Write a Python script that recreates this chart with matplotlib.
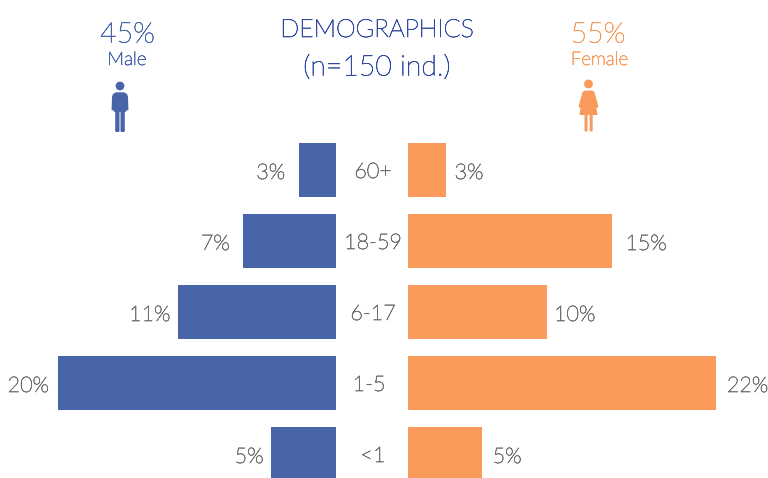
import matplotlib
matplotlib.use("Agg")
import matplotlib.pyplot as plt
import matplotlib.patheffects as pe
from matplotlib.patches import Circle, Polygon, FancyBboxPatch

plt.rcParams['font.family'] = ['Lato', 'DejaVu Sans']
plt.rcParams['font.weight'] = 'light'

ages = ["60+", "18-59", "6-17", "1-5", "<1"]
male = [2.65, 6.7, 11.4, 20.0, 4.7]
female = [2.7, 14.7, 10.0, 22.15, 5.3]
male_labels = ["3%", "7%", "11%", "20%", "5%"]
female_labels = ["3%", "15%", "10%", "22%", "5%"]

BLUE = "#4865A9"
ORANGE = "#F99A5A"
TITLE = "#2F4A9E"
GREY = "#6F6F6F"
W, H = 768, 478
PX = 13.9
ROW = 71.0
Y0 = 170.0
positions = list(range(len(ages)))

male_gap = [-14, -13, -7, -9, -7]
female_gap = [9, 13, 7, 11, 11]
age_shift = [-35, -35, -35, -39, -35]

fig = plt.figure(figsize=(W / 100, H / 100), dpi=100, facecolor="white")

def bold(color, w=0.45):
    return [pe.withStroke(linewidth=w, foreground=color)]

def make_axes(left, right):
    ax = fig.add_axes([left / W, 0, (right - left) / W, 1])
    ax.set_ylim((H - Y0) / ROW, -Y0 / ROW)
    ax.axis("off")
    ax.patch.set_alpha(0)
    return ax

axl = make_axes(0, 336)
axl.set_xlim(336 / PX, 0)
axr = make_axes(408, W)
axr.set_xlim(0, (W - 408) / PX)

axl.barh(positions, male, height=0.77, color=BLUE)
axr.barh(positions, female, height=0.77, color=ORANGE)

for i in positions:
    axl.annotate(male_labels[i], (male[i], i), xytext=(male_gap[i], -3), textcoords="offset pixels",
                 ha="right", va="center", fontsize=15.5, color=GREY, path_effects=bold(GREY))
    axr.annotate(female_labels[i], (female[i], i), xytext=(female_gap[i], -3), textcoords="offset pixels",
                 ha="left", va="center", fontsize=15.5, color=GREY, path_effects=bold(GREY))
    axr.annotate(ages[i], (0, i), xytext=(age_shift[i], -2), textcoords="offset pixels",
                 ha="center", va="center", fontsize=15.5, color=GREY, path_effects=bold(GREY))

ov = fig.add_axes([0, 0, 1, 1])
ov.set_xlim(0, W)
ov.set_ylim(H, 0)
ov.axis("off")
ov.patch.set_alpha(0)

ov.text(377, 30, "DEMOGRAPHICS", ha="center", va="center", fontsize=18, color=TITLE, path_effects=bold(TITLE))
ov.text(377, 68, "(n=150 ind.)", ha="center", va="center", fontsize=20.5, color=TITLE, path_effects=bold(TITLE))
ov.text(127.5, 35, "45%", ha="center", va="center", fontsize=20.5, color=BLUE, path_effects=bold(BLUE))
ov.text(127, 60, "Male", ha="center", va="center", fontsize=13.5, color=BLUE, path_effects=bold(BLUE))
ov.text(598, 35, "55%", ha="center", va="center", fontsize=20.5, color=ORANGE, path_effects=bold(ORANGE))
ov.text(599.5, 60, "Female", ha="center", va="center", fontsize=13.5, color=ORANGE, path_effects=bold(ORANGE))

# Male icon
ov.add_patch(Circle((120, 86), 4.4, color=BLUE, lw=0))
ov.add_patch(Polygon([(111.6, 110), (112, 97), (113, 94), (116, 92.3), (124, 92.3), (127, 94), (128, 97),
                      (128.4, 110), (126.4, 110.5), (125.6, 112), (114.4, 112), (113.6, 110.5)],
                     color=BLUE, lw=0))
ov.add_patch(Polygon([(114.6, 100), (115.2, 100), (115.2, 112), (114.6, 112)], color="white", lw=0))
ov.add_patch(Polygon([(124.8, 100), (125.4, 100), (125.4, 112), (124.8, 112)], color="white", lw=0))
ov.add_patch(FancyBboxPatch((115.2, 108), 4.3, 24, boxstyle="round,pad=0,rounding_size=1.2", color=BLUE, lw=0))
ov.add_patch(FancyBboxPatch((120.5, 108), 4.3, 24, boxstyle="round,pad=0,rounding_size=1.2", color=BLUE, lw=0))

# Female icon
ov.add_patch(Circle((588.5, 84), 4.4, color=ORANGE, lw=0))
ov.add_patch(Polygon([(585, 90.5), (592, 90.5), (594.5, 92), (598.5, 107), (596.5, 108), (597.5, 115),
                      (579.5, 115), (580.5, 108), (578.5, 107), (582.5, 92)], color=ORANGE, lw=0))
ov.add_patch(FancyBboxPatch((584.5, 113), 3, 18.5, boxstyle="round,pad=0,rounding_size=0.8", color=ORANGE, lw=0))
ov.add_patch(FancyBboxPatch((589.7, 113), 3, 18.5, boxstyle="round,pad=0,rounding_size=0.8", color=ORANGE, lw=0))

fig.savefig("out.png", dpi=100, facecolor="white")
